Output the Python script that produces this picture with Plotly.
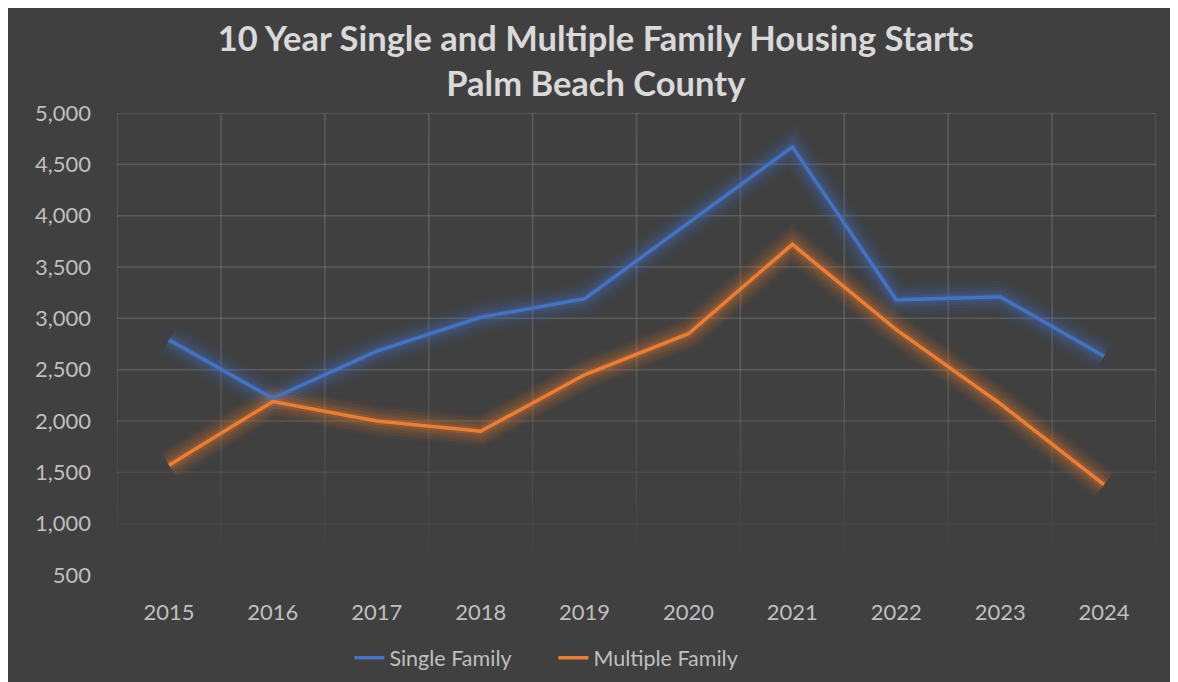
import plotly.graph_objects as go

years = ["2015", "2016", "2017", "2018", "2019", "2020", "2021", "2022", "2023", "2024"]
single_family = [2790, 2220, 2680, 3010, 3190, 3930, 4670, 3180, 3210, 2630]
multiple_family = [1570, 2190, 2000, 1900, 2450, 2850, 3720, 2890, 2170, 1380]

BLUE = "#4472C4"
ORANGE = "#ED7D31"
BG = "#404040"
FONT = "Lato"
Y_MIN, Y_MAX, Y_STEP = 500, 5000, 500

fig = go.Figure()

def glow(y, rgb):
    for w, a in [(32, 0.05), (26, 0.07), (20, 0.09), (14, 0.13), (8, 0.18)]:
        fig.add_trace(go.Scatter(
            x=years, y=y, mode="lines", showlegend=False, hoverinfo="skip",
            line=dict(color=f"rgba({rgb},{a})", width=w),
        ))

glow(single_family, "68,114,196")
glow(multiple_family, "237,125,49")

fig.add_trace(go.Scatter(x=years, y=single_family, mode="lines", name="Single Family",
                         line=dict(color=BLUE, width=3.5)))
fig.add_trace(go.Scatter(x=years, y=multiple_family, mode="lines", name="Multiple Family",
                         line=dict(color=ORANGE, width=3.5)))

# gridlines that fade toward the bottom of the plot
def grid_alpha(v):
    f = (v - 600) / (2600 - 600)
    return 0.32 * max(0.0, min(1.0, f))

grid_shapes = []
for v in range(Y_MIN, Y_MAX + 1, Y_STEP):
    a = grid_alpha(v)
    if a > 0:
        grid_shapes.append(dict(type="line", xref="paper", yref="y", x0=0, x1=1, y0=v, y1=v,
                                line=dict(color=f"rgba(150,150,150,{a:.3f})", width=1.5),
                                layer="below"))
seg = 100
for i in range(len(years) + 1):
    xb = i - 0.5
    for v0 in range(Y_MIN, Y_MAX, seg):
        a = grid_alpha(v0 + seg / 2)
        if a > 0:
            grid_shapes.append(dict(type="line", xref="x", yref="y", x0=xb, x1=xb,
                                    y0=v0, y1=v0 + seg,
                                    line=dict(color=f"rgba(150,150,150,{a:.3f})", width=1.5),
                                    layer="below"))

fig.update_layout(
    width=1178, height=682,
    paper_bgcolor=BG, plot_bgcolor=BG,
    margin=dict(l=109, r=30, t=105, b=112),
    title=dict(
        text="10 Year Single and Multiple Family Housing Starts<br>Palm Beach County",
        x=0.499, xanchor="center", xref="container",
        y=1 - 43 / 682, yanchor="middle", yref="container",
        font=dict(family=FONT, size=34.5, color="#D9D9D9", weight="bold"),
    ),
    font=dict(family=FONT, size=21.5, color="#BFBFBF"),
    legend=dict(orientation="h", x=0.42, xanchor="center", y=-0.135, yanchor="top",
                font=dict(family=FONT, size=21.5, color="#BFBFBF"),
                entrywidth=159, entrywidthmode="pixels",
                itemwidth=30, bgcolor="rgba(0,0,0,0)"),
    xaxis=dict(type="category", showgrid=False, showline=False, zeroline=False,
               ticks="", ticklabelstandoff=22, tickfont=dict(size=22, color="#BFBFBF"),
               range=[-0.5, 9.5]),
    yaxis=dict(range=[Y_MIN, Y_MAX], dtick=Y_STEP, tickformat=",", showgrid=False,
               showline=False, zeroline=False,
               ticks="", ticklabelstandoff=25, tickfont=dict(size=22, color="#BFBFBF")),
    shapes=grid_shapes,
)

fig.write_html("out.html")
